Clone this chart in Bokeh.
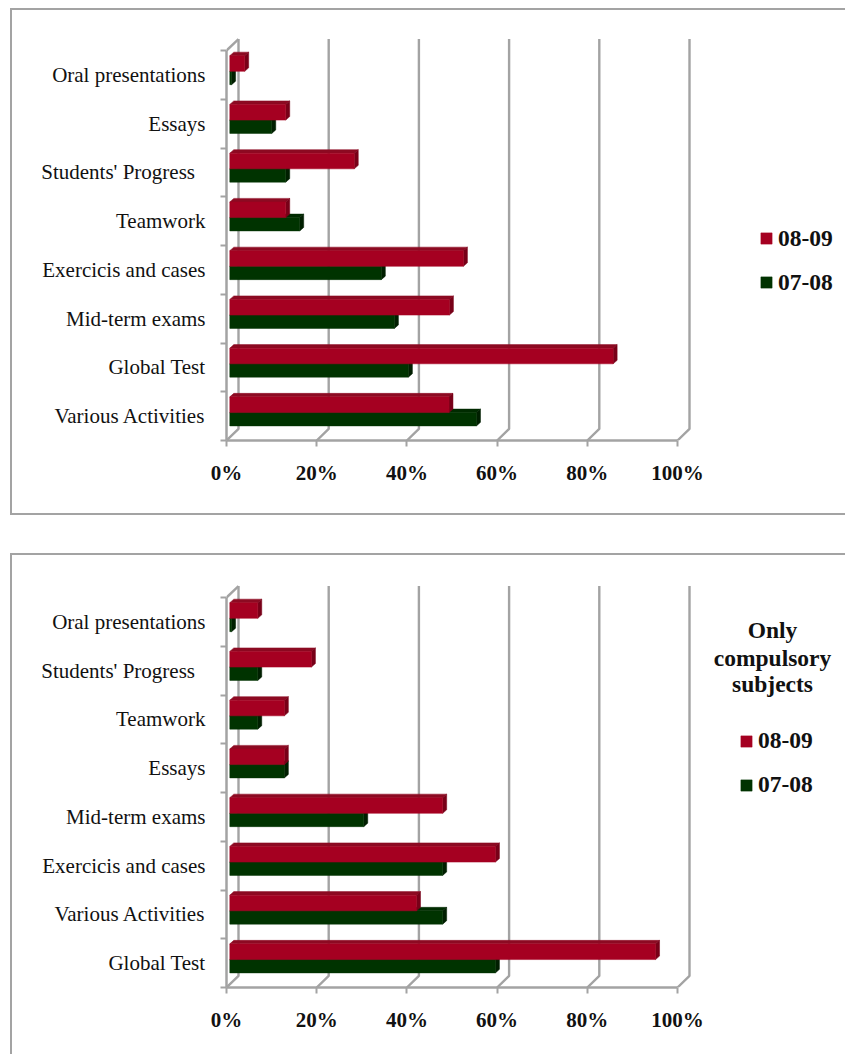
from bokeh.plotting import figure
from bokeh.layouts import column
from bokeh.models import (Range1d, FixedTicker, LinearAxis, Legend, LegendItem, Label)
from bokeh.embed import file_html
from bokeh.resources import INLINE

# ---- data ----
cats_a = ["Various Activities", "Global Test", "Mid-term exams", "Exercicis and cases",
          "Teamwork", "Students' Progress\u00a0\u00a0", "Essays", "Oral presentations"]
s0809_a = [48.6, 85.0, 48.7, 51.8, 12.4, 27.6, 12.4, 3.3]
s0708_a = [54.7, 39.6, 36.5, 33.6, 15.5, 12.4, 9.3, 0.4]

cats_b = ["Global Test", "Various Activities", "Exercicis and cases", "Mid-term exams",
          "Essays", "Teamwork", "Students' Progress\u00a0\u00a0", "Oral presentations"]
s0809_b = [94.4, 41.4, 58.9, 47.2, 12.1, 12.1, 18.1, 6.2]
s0708_b = [58.9, 47.2, 47.2, 29.7, 12.1, 6.2, 6.2, 0.4]

x_ticks = [0, 20, 40, 60, 80, 100]
x_tick_labels = ["0%", "20%", "40%", "60%", "80%", "100%"]
series_names = ["08-09", "07-08"]

# ---- style ----
FONT = "Liberation Serif"
GRAY = "#a3a3a3"
RED, RED_TOP, RED_SIDE = "#a50021", "#8c0a22", "#780018"
GREEN, GREEN_TOP, GREEN_SIDE = "#003300", "#002b00", "#001f00"
PX_X = 4.51      # pixels per percent
PX_Y = 48.7      # pixels per category band


def chart(cats, red, green, height, frame_bottom, legend_xy, title_lines=()):
    n = len(cats)
    p = figure(width=833, height=height, output_backend="svg", toolbar_location=None,
               x_axis_type=None, y_axis_type=None,
               x_range=Range1d(0, 619 / PX_X), y_range=Range1d(0, frame_bottom / PX_Y),
               min_border_left=214, min_border_right=0, min_border_top=0,
               min_border_bottom=int(round(height - frame_bottom)))
    p.grid.visible = False
    p.outline_line_color = None
    p.background_fill_color = "white"

    dx, dy = 12 / PX_X, 11.5 / PX_Y   # depth of the wall
    bx, by = 4 / PX_X, 3.5 / PX_Y     # depth of a bar
    x0 = 3.3 / PX_X                   # bars stand a little behind the front axis

    # walls
    for v in x_ticks:
        p.line([v, v + dx, v + dx], [0, dy, n + dy], line_color=GRAY, line_width=2.4)
    p.line([0, dx], [n, n + dy], line_color=GRAY, line_width=2.4)

    centers = [i + 0.5 for i in range(n)]
    edges = list(range(n + 1))

    def bars(vals, low, high, face, top, side):
        rights = [x0 + v for v in vals]
        bot = [i + low for i in range(n)]
        tp = [i + high for i in range(n)]
        p.patches([[x0, r, r + bx, x0 + bx] for r in rights],
                  [[t, t, t + by, t + by] for t in tp],
                  fill_color=top, line_color=top, line_width=0.5)
        p.patches([[r, r, r + bx, r + bx] for r in rights],
                  [[b, t, t + by, b + by] for b, t in zip(bot, tp)],
                  fill_color=side, line_color=side, line_width=0.5)
        return p.hbar(y=[(b + t) / 2 for b, t in zip(bot, tp)], height=high - low,
                      left=[x0] * n, right=rights, fill_color=face, line_color=face,
                      line_width=0.5)

    g = bars(green, 0.30, 0.573, GREEN, GREEN_TOP, GREEN_SIDE)
    r = bars(red, 0.573, 0.895, RED, RED_TOP, RED_SIDE)

    # axes
    xa = LinearAxis(ticker=FixedTicker(ticks=x_ticks), bounds=(0, 100),
                    major_label_overrides=dict(zip(x_ticks, x_tick_labels)))
    xa.axis_line_color = GRAY
    xa.axis_line_width = 2.5
    xa.major_tick_line_color = GRAY
    xa.major_tick_line_width = 2
    xa.major_tick_in = 0
    xa.major_tick_out = 6
    xa.minor_tick_line_color = None
    xa.major_label_standoff = 14
    xa.major_label_text_font = FONT
    xa.major_label_text_font_style = "bold"
    xa.major_label_text_font_size = "21px"
    xa.major_label_text_color = "#111111"
    p.add_layout(xa, "below")

    ya = LinearAxis(ticker=FixedTicker(ticks=centers, minor_ticks=edges), bounds=(0, n),
                    major_label_overrides=dict(zip(centers, cats)))
    ya.axis_line_color = GRAY
    ya.axis_line_width = 2.5
    ya.major_tick_line_color = None
    ya.major_tick_in = 0
    ya.major_tick_out = 0
    ya.minor_tick_line_color = GRAY
    ya.minor_tick_line_width = 2
    ya.minor_tick_in = 0
    ya.minor_tick_out = 6
    ya.major_label_standoff = 15
    ya.major_label_text_font = FONT
    ya.major_label_text_font_size = "21px"
    ya.major_label_text_color = "#111111"
    p.add_layout(ya, "left")

    legend = Legend(items=[LegendItem(label=series_names[0], renderers=[r]),
                           LegendItem(label=series_names[1], renderers=[g])],
                    location=legend_xy, orientation="vertical",
                    border_line_color=None, background_fill_alpha=0,
                    padding=0, margin=0, spacing=17, glyph_width=14, glyph_height=14,
                    label_standoff=5, label_height=26,
                    label_text_font=FONT, label_text_font_style="bold",
                    label_text_font_size="23.5px", label_text_color="#111111")
    p.add_layout(legend, "center")

    for text, cx, cy in title_lines:
        p.add_layout(Label(x=cx, y=cy, x_units="screen", y_units="screen", text=text,
                           text_font=FONT, text_font_style="bold", text_font_size="23.5px",
                           text_align="center", text_baseline="middle", text_color="#111111"))
    return p


top = chart(cats_a, s0809_a, s0708_a, height=503, frame_bottom=429.6, legend_xy=(533, 144.5))
bottom = chart(cats_b, s0809_b, s0708_b, height=499, frame_bottom=431.6, legend_xy=(513, 189),
               title_lines=[("Only", 546, 357.6), ("compulsory", 546, 330),
                            ("subjects", 546, 304)])

BORDER = f"2px solid {GRAY}"
w1 = column(top, margin=(8, 0, 0, 10),
            styles={"border-left": BORDER, "border-top": BORDER, "border-bottom": BORDER})
w2 = column(bottom, margin=(38, 0, 0, 10),
            styles={"border-left": BORDER, "border-top": BORDER})
page = column(w1, w2, spacing=0)
open("out.html", "w").write(file_html(page, INLINE))
